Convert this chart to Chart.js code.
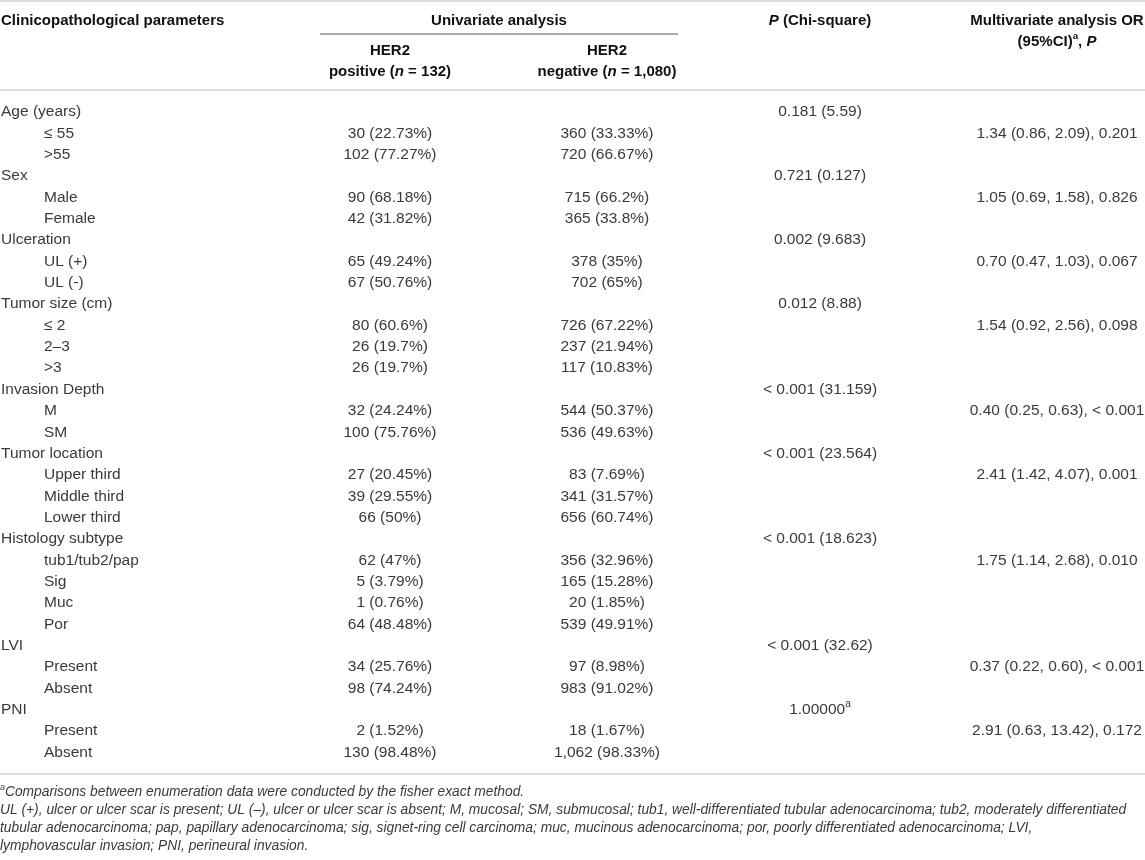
<!DOCTYPE html>
<html>
<head>
<meta charset="utf-8">
<script src="https://cdn.jsdelivr.net/npm/chart.js@4.4.1/dist/chart.umd.min.js"></script>
<style>
  html, body { margin: 0; padding: 0; background: #fff; }
</style>
</head>
<body>
<canvas id="myChart" width="1145" height="860"></canvas>
<script>
// table rows (first column)
const rowLabels = [
  "Age (years)", "≤ 55", ">55",
  "Sex", "Male", "Female",
  "Ulceration", "UL (+)", "UL (-)",
  "Tumor size (cm)", "≤ 2", "2–3", ">3",
  "Invasion Depth", "M", "SM",
  "Tumor location", "Upper third", "Middle third", "Lower third",
  "Histology subtype", "tub1/tub2/pap", "Sig", "Muc", "Por",
  "LVI", "Present", "Absent",
  "PNI", "Present", "Absent"
];
const rowIndent = [0,1,1, 0,1,1, 0,1,1, 0,1,1,1, 0,1,1, 0,1,1,1, 0,1,1,1,1, 0,1,1, 0,1,1];

const her2Positive = [
  null, "30 (22.73%)", "102 (77.27%)",
  null, "90 (68.18%)", "42 (31.82%)",
  null, "65 (49.24%)", "67 (50.76%)",
  null, "80 (60.6%)", "26 (19.7%)", "26 (19.7%)",
  null, "32 (24.24%)", "100 (75.76%)",
  null, "27 (20.45%)", "39 (29.55%)", "66 (50%)",
  null, "62 (47%)", "5 (3.79%)", "1 (0.76%)", "64 (48.48%)",
  null, "34 (25.76%)", "98 (74.24%)",
  null, "2 (1.52%)", "130 (98.48%)"
];
const her2Negative = [
  null, "360 (33.33%)", "720 (66.67%)",
  null, "715 (66.2%)", "365 (33.8%)",
  null, "378 (35%)", "702 (65%)",
  null, "726 (67.22%)", "237 (21.94%)", "117 (10.83%)",
  null, "544 (50.37%)", "536 (49.63%)",
  null, "83 (7.69%)", "341 (31.57%)", "656 (60.74%)",
  null, "356 (32.96%)", "165 (15.28%)", "20 (1.85%)", "539 (49.91%)",
  null, "97 (8.98%)", "983 (91.02%)",
  null, "18 (1.67%)", "1,062 (98.33%)"
];
const chiSquareP = [
  "0.181 (5.59)", null, null,
  "0.721 (0.127)", null, null,
  "0.002 (9.683)", null, null,
  "0.012 (8.88)", null, null, null,
  "< 0.001 (31.159)", null, null,
  "< 0.001 (23.564)", null, null, null,
  "< 0.001 (18.623)", null, null, null, null,
  "< 0.001 (32.62)", null, null,
  "1.00000^a", null, null
];
const multivariate = [
  null, "1.34 (0.86, 2.09), 0.201", null,
  null, "1.05 (0.69, 1.58), 0.826", null,
  null, "0.70 (0.47, 1.03), 0.067", null,
  null, "1.54 (0.92, 2.56), 0.098", null, null,
  null, "0.40 (0.25, 0.63), < 0.001", null,
  null, "2.41 (1.42, 4.07), 0.001", null, null,
  null, "1.75 (1.14, 2.68), 0.010", null, null, null,
  null, "0.37 (0.22, 0.60), < 0.001", null,
  null, "2.91 (0.63, 13.42), 0.172", null
];

const footnotes = [
  [{ t: "a", sup: true }, { t: "Comparisons between enumeration data were conducted by the fisher exact method." }],
  [{ t: "UL (+), ulcer or ulcer scar is present; UL (–), ulcer or ulcer scar is absent; M, mucosal; SM, submucosal; tub1, well-differentiated tubular adenocarcinoma; tub2, moderately differentiated" }],
  [{ t: "tubular adenocarcinoma; pap, papillary adenocarcinoma; sig, signet-ring cell carcinoma; muc, mucinous adenocarcinoma; por, poorly differentiated adenocarcinoma; LVI," }],
  [{ t: "lymphovascular invasion; PNI, perineural invasion." }]
];

const FONT = '"Liberation Sans", Arial, Helvetica, sans-serif';
const DATA_SIZE = 15.5;
const HEAD_SIZE = 15;
const NOTE_SIZE = 13.8;
const TEXT_COLOR = "#3a3a3a";
const HEAD_COLOR = "#111";
const RULE_COLOR = "#d2d2d2";

function fontOf(size, bold, italic) {
  return (italic ? "italic " : "") + (bold ? "bold " : "") + size + "px " + FONT;
}

// draws a line of mixed text pieces (italic / superscript)
function drawRich(ctx, segs, x, y, align, size, bold, color) {
  ctx.save();
  ctx.textBaseline = "middle";
  ctx.textAlign = "left";
  ctx.fillStyle = color;
  const widths = segs.map(s => {
    ctx.font = fontOf(s.sup ? size * 0.65 : size, bold, s.italic);
    return ctx.measureText(s.t).width;
  });
  const total = widths.reduce((a, b) => a + b, 0);
  let cx = align === "center" ? x - total / 2 : (align === "right" ? x - total : x);
  segs.forEach((s, i) => {
    ctx.font = fontOf(s.sup ? size * 0.65 : size, bold, s.italic);
    ctx.fillText(s.t, cx, s.sup ? y - size * 0.35 : y);
    cx += widths[i];
  });
  ctx.restore();
}

function cells(values, xPos) {
  const out = [];
  values.forEach((t, i) => {
    if (t != null) out.push({ x: typeof xPos === "function" ? xPos(i) : xPos, y: i, t: t });
  });
  return out;
}

function hline(ctx, x1, x2, y, color, w) {
  ctx.save();
  ctx.strokeStyle = color;
  ctx.lineWidth = w;
  ctx.beginPath();
  ctx.moveTo(x1, y);
  ctx.lineTo(x2, y);
  ctx.stroke();
  ctx.restore();
}

const tablePlugin = {
  id: "tableText",
  afterDatasetsDraw(chart) {
    const ctx = chart.ctx;
    chart.data.datasets.forEach((ds, i) => {
      const meta = chart.getDatasetMeta(i);
      meta.data.forEach((pt, j) => {
        const parts = ds.data[j].t.split("^");
        const segs = [{ t: parts[0] }];
        if (parts[1]) segs.push({ t: parts[1], sup: true });
        drawRich(ctx, segs, pt.x, pt.y, ds.align, DATA_SIZE, false, TEXT_COLOR);
      });
    });
  },
  afterDraw(chart) {
    const ctx = chart.ctx;
    const W = chart.width;
    // rules
    hline(ctx, 0, W, 1, RULE_COLOR, 1.5);
    hline(ctx, 320, 678, 34, "#555", 1);
    hline(ctx, 0, W, 90, RULE_COLOR, 1.5);
    hline(ctx, 0, W, 774, RULE_COLOR, 1.5);

    // header
    drawRich(ctx, [{ t: "Clinicopathological parameters" }], 1, 21, "left", HEAD_SIZE, true, HEAD_COLOR);
    drawRich(ctx, [{ t: "Univariate analysis" }], 499, 21, "center", HEAD_SIZE, true, HEAD_COLOR);
    drawRich(ctx, [{ t: "HER2" }], 390, 51, "center", HEAD_SIZE, true, HEAD_COLOR);
    drawRich(ctx, [{ t: "positive (" }, { t: "n", italic: true }, { t: " = 132)" }], 390, 72, "center", HEAD_SIZE, true, HEAD_COLOR);
    drawRich(ctx, [{ t: "HER2" }], 607, 51, "center", HEAD_SIZE, true, HEAD_COLOR);
    drawRich(ctx, [{ t: "negative (" }, { t: "n", italic: true }, { t: " = 1,080)" }], 607, 72, "center", HEAD_SIZE, true, HEAD_COLOR);
    drawRich(ctx, [{ t: "P", italic: true }, { t: " (Chi-square)" }], 820, 21, "center", HEAD_SIZE, true, HEAD_COLOR);
    drawRich(ctx, [{ t: "Multivariate analysis OR" }], 1057, 21, "center", HEAD_SIZE, true, HEAD_COLOR);
    drawRich(ctx, [{ t: "(95%CI)" }, { t: "a", sup: true }, { t: ", " }, { t: "P", italic: true }], 1057, 42, "center", HEAD_SIZE, true, HEAD_COLOR);

    // footnotes
    footnotes.forEach((segs, i) => {
      drawRich(ctx, segs.map(s => Object.assign({ italic: true }, s)), 0, 792 + i * 18, "left", NOTE_SIZE, false, TEXT_COLOR);
    });
  }
};

const ctx = document.getElementById("myChart").getContext("2d");

const data = {
  datasets: [
    { data: cells(rowLabels, i => rowIndent[i] ? 44 : 1), align: "left" },
    { data: cells(her2Positive, 390), align: "center" },
    { data: cells(her2Negative, 607), align: "center" },
    { data: cells(chiSquareP, 820), align: "center" },
    { data: cells(multivariate, 1057), align: "center" }
  ]
};

const config = {
  type: "scatter",
  data: data,
  options: {
    responsive: false,
    animation: false,
    events: [],
    layout: { padding: { top: 101.3, bottom: 96.8, left: 0, right: 0 } },
    elements: { point: { radius: 0, hoverRadius: 0 } },
    plugins: { legend: { display: false }, tooltip: { enabled: false } },
    scales: {
      x: { type: "linear", min: 0, max: 1145, display: false },
      y: { type: "linear", min: -0.5, max: rowLabels.length - 0.5, reverse: true, display: false }
    }
  },
  plugins: [tablePlugin]
};

const myChart = new Chart(ctx, config);
</script>
</body>
</html>
